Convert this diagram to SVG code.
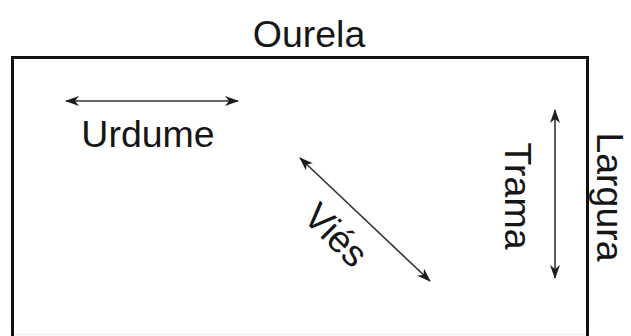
<svg xmlns="http://www.w3.org/2000/svg" width="631" height="336" viewBox="0 0 631 336">
  <defs>
    <marker id="ah" viewBox="0 0 14 10" refX="13" refY="5" markerWidth="14" markerHeight="10" markerUnits="userSpaceOnUse" orient="auto-start-reverse">
      <path d="M0,0 L14,5 L0,10 L4,5 Z" fill="#1e1e1e"/>
    </marker>
    <style>
      .lbl { font-family: "Liberation Sans", Arial, sans-serif; font-size: 37.5px; fill: #161616; }
      .arr { stroke: #333; stroke-width: 1.6; fill: none; marker-start: url(#ah); marker-end: url(#ah); }
    </style>
  </defs>
  <rect width="631" height="336" fill="#ffffff"/>
  <g id="tecido">
    <rect x="12.5" y="57.5" width="575" height="300" fill="none" stroke="#111" stroke-width="3"/>
    <line x1="14" y1="334.5" x2="586" y2="334.5" stroke="#ececec" stroke-width="1"/>
  </g>
  <g id="ourela"><text class="lbl" x="309" y="47" text-anchor="middle">Ourela</text></g>
  <g id="largura"><text class="lbl" transform="translate(597,197) rotate(90)" text-anchor="middle">Largura</text></g>
  <g id="urdume"><text class="lbl" x="148" y="147" text-anchor="middle">Urdume</text></g>
  <g id="trama"><text class="lbl" transform="translate(505,196) rotate(90)" text-anchor="middle">Trama</text></g>
  <g id="vies"><text class="lbl" transform="translate(327,244) rotate(45)" text-anchor="middle">Viés</text></g>
  <g id="connectors">
    <line class="arr" x1="66" y1="101" x2="238" y2="101"/>
    <line class="arr" x1="555" y1="110" x2="555" y2="278"/>
    <line class="arr" x1="300" y1="158" x2="430" y2="281"/>
  </g>
</svg>
